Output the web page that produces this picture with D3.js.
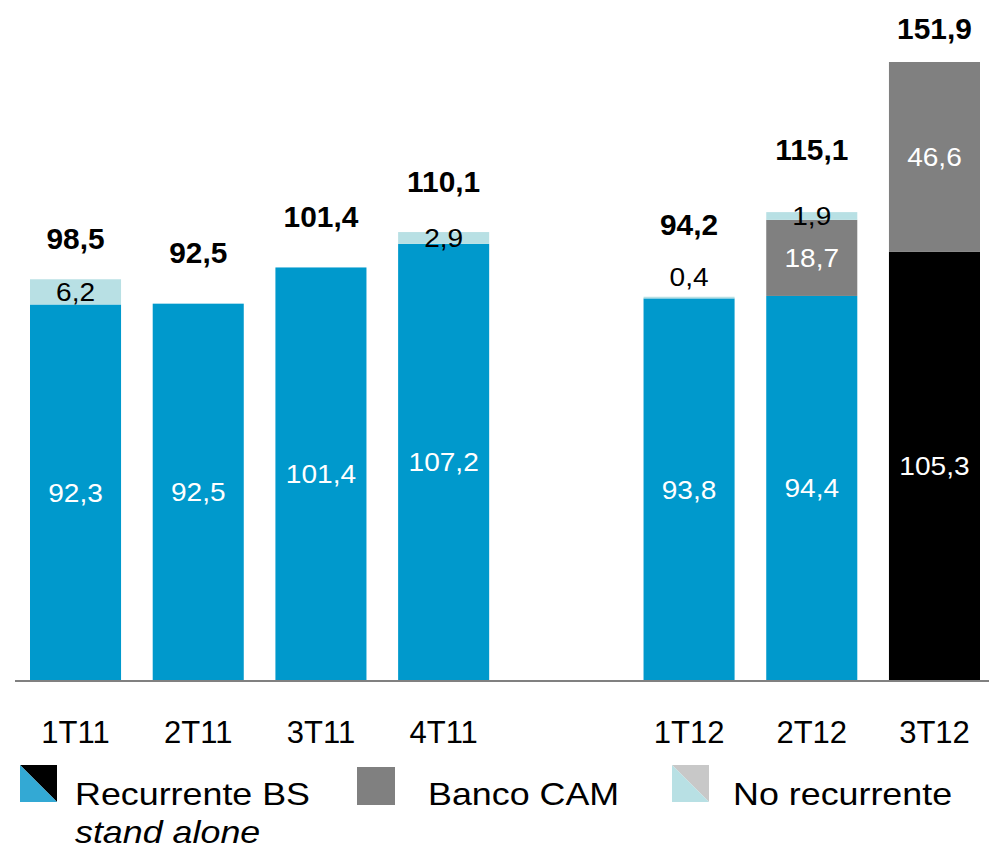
<!DOCTYPE html>
<html>
<head>
<meta charset="utf-8">
<script src="https://cdn.jsdelivr.net/npm/d3@7"></script>
<style>
  body { margin: 0; background: #fff; }
  text { font-family: "Liberation Sans", Arial, sans-serif; }
</style>
</head>
<body>
<div id="chart"></div>
<script>
//----------------------------------------------------------------
// données (millions)
var trimestres   = ["1T11", "2T11", "3T11", "4T11", "", "1T12", "2T12", "3T12"];
var recurrente   = [92.3, 92.5, 101.4, 107.2, null, 93.8, 94.4, 105.3];
var bancoCam     = [0, 0, 0, 0, null, 0, 18.7, 46.6];
var noRecurrente = [6.2, 0, 0, 2.9, null, 0.4, 1.9, 0];
var totales      = [98.5, 92.5, 101.4, 110.1, null, 94.2, 115.1, 151.9];
var leyenda      = ["Recurrente BS", "Banco CAM", "No recurrente"];

// décalage des totaux au-dessus des barres (mise en page)
var decalageTotal = [30, 41, 40, 40, 0, 62, 52, 23];

//----------------------------------------------------------------
var largeur = 989, hauteur = 852;
var svg = d3.select("#chart")
  .append("svg")
  .attr("width", largeur)
  .attr("height", hauteur);

var slots = trimestres.map(function(t, i){ return t === "" ? "vide" : t; });

var x = d3.scaleBand()
  .domain(slots)
  .range([30, 980])
  .paddingInner(0.258)
  .paddingOuter(0);

var y = d3.scaleLinear()
  .domain([0, 151.9])
  .range([680, 62]);

var couleurs = {
  rec: "#0099cc",
  recFin: "#000000",
  cam: "#808080",
  noRec: "#b8e0e4"
};

function fmt(v){ return d3.format(".1f")(v).replace(".", ","); }

// texte légèrement élargi horizontalement, comme dans l'original
function texte(parent, xx, yy, sx){
  return parent.append("text")
    .attr("transform", "translate(" + xx + "," + yy + ") scale(" + sx + ",1)");
}

//----------------------------------------------------------------
// barres empilées
var donnees = slots.map(function(s, i){
  return { slot: s, i: i, rec: recurrente[i], cam: bancoCam[i], noRec: noRecurrente[i], total: totales[i] };
}).filter(function(d){ return d.rec != null; });

var barres = svg.selectAll(".barre")
  .data(donnees)
  .enter()
  .append("g")
  .attr("class", "barre");

barres.each(function(d){
  var g = d3.select(this);
  var x0 = x(d.slot), w = x.bandwidth(), cx = x0 + w / 2;
  var base = 0;
  var segs = [
    { v: d.rec, fill: d.slot === "3T12" ? couleurs.recFin : couleurs.rec, txt: "#fff" },
    { v: d.cam, fill: couleurs.cam, txt: "#fff" },
    { v: d.noRec, fill: couleurs.noRec, txt: "#000" }
  ];
  segs.forEach(function(s){
    if (!s.v) return;
    var y1 = y(base), y2 = y(base + s.v);
    g.append("rect")
      .attr("x", x0)
      .attr("width", w)
      .attr("y", y2)
      .attr("height", y1 - y2)
      .attr("fill", s.fill);
    var ty = (y1 + y2) / 2, col = s.txt;
    if (y1 - y2 < 5) { ty = y2 - 20; col = "#000"; }
    texte(g, cx, ty, 1.08)
      .attr("dy", "0.36em")
      .attr("text-anchor", "middle")
      .attr("font-size", "26px")
      .attr("fill", col)
      .text(fmt(s.v));
    base += s.v;
  });
  // total
  texte(g, cx, y(base) - decalageTotal[d.i], 1.03)
    .attr("text-anchor", "middle")
    .attr("font-size", "29px")
    .attr("font-weight", "bold")
    .attr("fill", "#000")
    .text(fmt(d.total));
});

//----------------------------------------------------------------
// axe
svg.append("line")
  .attr("x1", 15)
  .attr("x2", 989)
  .attr("y1", y(0) + 1)
  .attr("y2", y(0) + 1)
  .attr("stroke", "#808080")
  .attr("stroke-width", 2);

donnees.forEach(function(d){
  texte(svg, x(d.slot) + x.bandwidth() / 2, 743, 1.0)
    .attr("text-anchor", "middle")
    .attr("font-size", "31px")
    .attr("fill", "#000")
    .text(d.slot);
});

//----------------------------------------------------------------
// légende
var leg = svg.append("g");

function icone(xx, haut, bas){
  var s = 37, yy = 765;
  leg.append("path")
    .attr("d", "M" + xx + "," + yy + "L" + (xx + s) + "," + yy + "L" + (xx + s) + "," + (yy + s) + "Z")
    .attr("fill", haut);
  leg.append("path")
    .attr("d", "M" + xx + "," + yy + "L" + (xx + s) + "," + (yy + s) + "L" + xx + "," + (yy + s) + "Z")
    .attr("fill", bas);
}
icone(20, "#000000", "#33a9d4");
leg.append("rect").attr("x", 357).attr("y", 767).attr("width", 38).attr("height", 38).attr("fill", couleurs.cam);
icone(672, "#c8c8c8", couleurs.noRec);

var textesLeg = [
  { x: 75, t: leyenda[0] },
  { x: 428, t: leyenda[1] },
  { x: 733, t: leyenda[2] }
];
textesLeg.forEach(function(d){
  texte(leg, d.x, 805, 1.12)
    .attr("font-size", "32px")
    .attr("fill", "#000")
    .text(d.t);
});

texte(leg, 75, 843, 1.12)
  .attr("font-size", "32px")
  .attr("font-style", "italic")
  .attr("fill", "#000")
  .text("stand alone");
</script>
</body>
</html>
